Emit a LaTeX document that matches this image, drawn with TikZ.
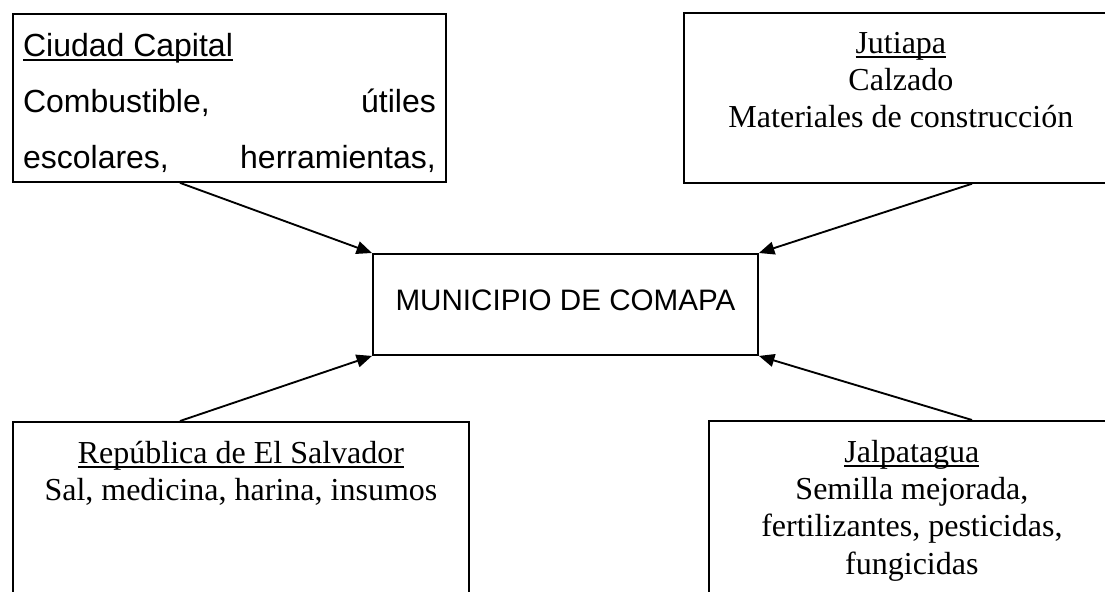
\documentclass[tikz,border=0pt]{standalone}
\usepackage{fontspec}
\setmainfont{Liberation Serif}
\newfontfamily\arial{Liberation Sans}
\usetikzlibrary{arrows.meta}
\newcommand{\subr}[1]{\leavevmode\setbox0\hbox{#1}\rlap{\rule[-1.8pt]{\wd0}{0.7pt}}\box0}

\begin{document}
\begin{tikzpicture}[x=0.375pt,y=-0.375pt,
        caja/.style={draw,line width=0.7pt,anchor=north west,inner xsep=3.8pt,inner ysep=7.1pt,font={\fontsize{12}{14}\selectfont}},
        flecha/.style={line width=0.7pt,-{Triangle[length=5.8pt,width=4.8pt]}}]
    \useasboundingbox (0,0) rectangle (1105,592);
    \clip (0,0) rectangle (1105,592);
    \node[caja] (capital) at (12,13) {\parbox[t][48.8pt][t]{154.8pt}{\arial\fontsize{12}{21}\selectfont
        \subr{Ciudad Capital}\\ Combustible,\hfill útiles\\ escolares,\hfill herramientas,}};
    \node[caja] (jutiapa) at (683,12) {\parbox[t][49.5pt][t]{155.1pt}{\centering
        \subr{Jutiapa}\\ Calzado\\ Materiales de construcción}};
    \node[draw,line width=0.7pt,anchor=north west,minimum width=144.4pt,minimum height=37.9pt,inner sep=0pt,
        font={\arial\fontsize{11.1}{13}\selectfont},text height=8.6pt,text depth=3.8pt] (comapa) at (372,253) {MUNICIPIO DE COMAPA};
    \node[caja] (salvador) at (12,421) {\parbox[t][60pt][t]{163.4pt}{\centering
        \subr{República de El Salvador}\\ Sal, medicina, harina, insumos}};
    \node[caja] (jalpa) at (708,420) {\parbox[t][60pt][t]{144.6pt}{\centering
        \subr{Jalpatagua}\\ Semilla mejorada,\\ fertilizantes, pesticidas,\\ fungicidas}};

    \draw[flecha] (capital.south -| 180,0) -- (comapa.north west);
    \draw[flecha] (jutiapa.south -| 972,0) -- (comapa.north east);
    \draw[flecha] (salvador.north -| 180,0) -- (comapa.south west);
    \draw[flecha] (jalpa.north -| 972,0) -- (comapa.south east);
\end{tikzpicture}
\end{document}
